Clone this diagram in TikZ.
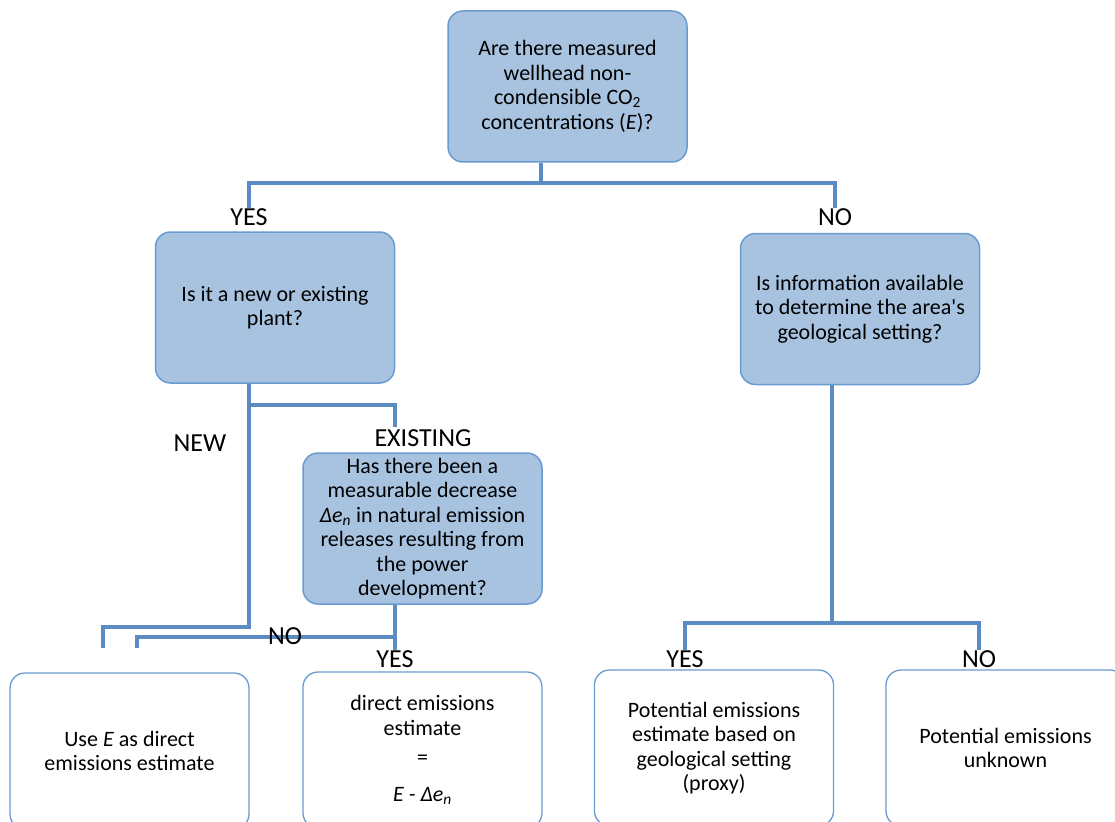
\documentclass[tikz,border=0pt]{standalone}
\usepackage{fontspec}
\setmainfont{Carlito}
\usepackage{xcolor}
\definecolor{boxfill}{HTML}{A7C3E0}
\definecolor{boxline}{HTML}{6A9BD0}
\definecolor{linkcol}{HTML}{5A8BC2}

\begin{document}
\begin{tikzpicture}[x=1pt,y=-1pt,
  qbox/.style={draw=boxline,fill=boxfill,line width=1.5pt,rounded corners=15pt,
    minimum width=239pt,minimum height=151pt,inner sep=0pt,align=center,
    font=\fontsize{22}{24.5}\selectfont},
  abox/.style={draw=boxline,line width=1.3pt,rounded corners=15pt,
    minimum width=239pt,minimum height=156pt,inner sep=0pt,align=center,
    font=\fontsize{22}{24.5}\selectfont},
  link/.style={draw=linkcol,line width=4pt},
  lbl/.style={inner sep=0pt,font=\fontsize{26}{28}\selectfont}]
\useasboundingbox (0,0) rectangle (1115,821);
\clip (0,0) rectangle (1115,821);

% question boxes
\node [qbox] (q0) at (567.5,86.5) {Are there measured\\wellhead non-\\condensible CO\textsubscript{2}\\concentrations (\textit{E})?};
\node [qbox] (q1) at (275,307.5) {Is it a new or existing\\plant?};
\node [qbox] (q3) at (860,309) {Is information available\\to determine the area\textquotesingle s\\geological setting?};
\node [qbox] (q2) at (422.5,528.5) {Has there been a\\measurable decrease\\\textit{Δe\textsubscript{n}} in natural emission\\releases resulting from\\the power\\development?};

% answer boxes (cut by the lower edge)
\node [abox] (b1) at (129.5,751) {Use \textit{E} as direct\\emissions estimate};
\node [abox] (b2) at (422.5,750) {direct emissions\\estimate\\[5pt]=\\[12pt]\textit{E - Δe\textsubscript{n}}};
\node [abox] (b3) at (714,748) {Potential emissions\\estimate based on\\geological setting\\(proxy)};
\node [abox] (b4) at (1005.5,748) {Potential emissions\\unknown};

% labels
\node [lbl] (yes1) at (249,217) {YES};
\node [lbl] (no1) at (835,217) {NO};
\node [lbl] (new) at (200,443) {NEW};
\node [lbl] (exist) at (423,438) {EXISTING};
\node [lbl] (yes2) at (395,659) {YES};
\node [lbl] (yes3) at (685,659) {YES};
\node [lbl] (no3) at (979,659) {NO};

% connectors
\coordinate (j0) at (541,183);
\coordinate (j1) at (249,405);
\coordinate (j2) at (395,637);
\coordinate (j3) at (832,623);
\coordinate (n1) at (249,627);
\coordinate (e1) at (103,648);
\coordinate (e2) at (137,648);
\coordinate (e3) at (395,427);
\draw [link] (q0.south -| j0) -- (j0);
\draw [link] (yes1.north) |- (j0) -| (no1.north);
\draw [link] (q1.south -| j1) -- (n1) -| (e1);
\draw [link] (j1) -| (e3);
\draw [link] (q2.south -| j2) -- (yes2.north);
\draw [link] (j2) -| (e2);
\draw [link] (q3.south -| j3) -- (j3);
\draw [link] (yes3.north) |- (j3) -| (no3.north);
\node [lbl] (no2) at (285,636) {NO};

\end{tikzpicture}
\end{document}
